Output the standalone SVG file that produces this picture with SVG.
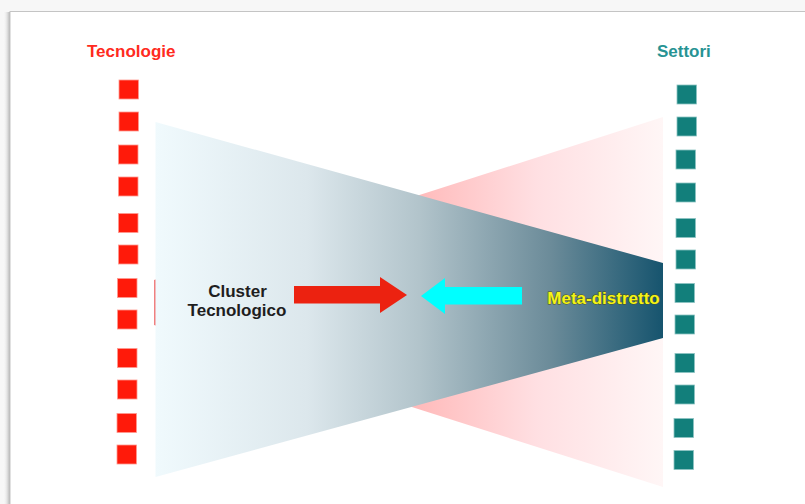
<svg xmlns="http://www.w3.org/2000/svg" width="805" height="504" viewBox="0 0 805 504">
  <defs>
    <linearGradient id="gBlue" x1="155" y1="0" x2="663" y2="0" gradientUnits="userSpaceOnUse">
      <stop offset="0" stop-color="#f0fafd"/>
      <stop offset="0.3" stop-color="#dce7ec"/>
      <stop offset="0.52" stop-color="#b2c4cb"/>
      <stop offset="0.78" stop-color="#6b8b99"/>
      <stop offset="1" stop-color="#16546e"/>
    </linearGradient>
    <linearGradient id="gPink" x1="154" y1="0" x2="663" y2="0" gradientUnits="userSpaceOnUse">
      <stop offset="0" stop-color="#f08080"/>
      <stop offset="0.5" stop-color="#ffb8b8"/>
      <stop offset="0.75" stop-color="#ffdfe2"/>
      <stop offset="1" stop-color="#fff6f6"/>
    </linearGradient>
    <linearGradient id="gShadow" x1="0" y1="0" x2="1" y2="0">
      <stop offset="0" stop-color="#ffffff" stop-opacity="0"/>
      <stop offset="1" stop-color="#a8a8a8" stop-opacity="0.9"/>
    </linearGradient>
  </defs>
  <style>
    .title { font-family: "Liberation Sans", Arial, sans-serif; font-weight: bold; font-size: 17px; }
    .lbl { font-family: "Liberation Sans", Arial, sans-serif; font-weight: bold; font-size: 17px; text-anchor: middle; }
    .red { fill: #ff1a0a; stroke: #ff9a90; stroke-width: 0.8; }
    .teal { fill: #127f7b; stroke: #8cc4c2; stroke-width: 0.8; }
  </style>

  <!-- page background and frame -->
  <rect x="0" y="0" width="805" height="504" fill="#f7f7f7"/>
  <rect x="3" y="12" width="7" height="492" fill="url(#gShadow)"/>
  <rect x="10" y="11.5" width="800" height="500" fill="#ffffff" stroke="#c4c4c4" stroke-width="1"/>

  <!-- pink trapezoid (Settori side) -->
  <g id="settori-fan">
    <polygon points="154,280 663,117 663,487 154,325" fill="url(#gPink)"/>
  </g>
  <!-- blue trapezoid (Tecnologie side) -->
  <g id="tecnologie-fan">
    <polygon points="155.5,122 663,263 663,338 155.5,477" fill="url(#gBlue)"/>
  </g>

  <g id="tecnologie">
    <text class="title" x="87" y="57" fill="#ff2a20">Tecnologie</text>
    <rect class="red" x="119" y="80" width="19.5" height="19"/>
    <rect class="red" x="119" y="112" width="19.5" height="19"/>
    <rect class="red" x="118.5" y="145" width="19.5" height="19"/>
    <rect class="red" x="118.5" y="177" width="19.5" height="19"/>
    <rect class="red" x="118.5" y="213.5" width="19.5" height="19"/>
    <rect class="red" x="118.5" y="245" width="19.5" height="19"/>
    <rect class="red" x="117.5" y="278.5" width="19.5" height="19"/>
    <rect class="red" x="117.5" y="310" width="19.5" height="19"/>
    <rect class="red" x="117.5" y="348.5" width="19.5" height="19"/>
    <rect class="red" x="117.5" y="380" width="19.5" height="19"/>
    <rect class="red" x="117" y="413.5" width="19.5" height="19"/>
    <rect class="red" x="117" y="445" width="19.5" height="19"/>
  </g>

  <g id="settori">
    <text class="title" x="657" y="57" fill="#279393">Settori</text>
    <rect class="teal" x="677" y="85" width="19.5" height="19"/>
    <rect class="teal" x="677" y="117" width="19.5" height="19"/>
    <rect class="teal" x="676" y="150" width="19.5" height="19"/>
    <rect class="teal" x="676" y="183" width="19.5" height="19"/>
    <rect class="teal" x="676" y="218.5" width="19.5" height="19"/>
    <rect class="teal" x="676" y="250" width="19.5" height="19"/>
    <rect class="teal" x="675" y="283.5" width="19.5" height="19"/>
    <rect class="teal" x="675" y="315" width="19.5" height="19"/>
    <rect class="teal" x="675" y="353.5" width="19.5" height="19"/>
    <rect class="teal" x="675" y="385" width="19.5" height="19"/>
    <rect class="teal" x="674" y="418.5" width="19.5" height="19"/>
    <rect class="teal" x="674" y="450.5" width="19.5" height="19"/>
  </g>

  <g id="cluster-tecnologico">
    <text class="lbl" x="237.5" y="297" fill="#1e1e1e">Cluster</text>
    <text class="lbl" x="237" y="316" fill="#1e1e1e">Tecnologico</text>
  </g>

  <g id="meta-distretto">
    <text class="lbl" x="603.5" y="304" fill="#f4f416" stroke="#505010" stroke-width="0.8" paint-order="stroke">Meta-distretto</text>
  </g>

  <g id="connectors">
    <polygon points="294,286 380,286 380,277 407,295 380,313 380,303.5 294,303.5" fill="#ec2210"/>
    <polygon points="522,287 445,287 445,278 421,296 445,314 445,304.5 522,304.5" fill="#00ffff"/>
  </g>
</svg>
